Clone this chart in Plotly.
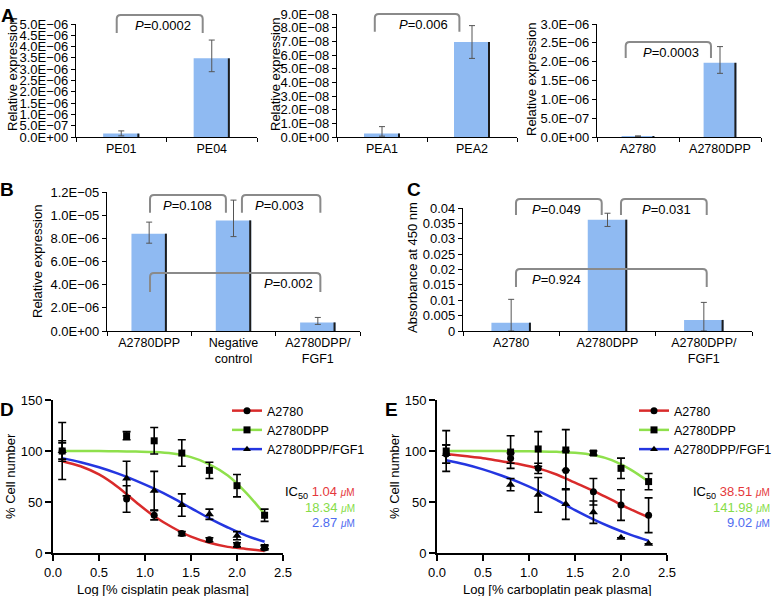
import plotly.graph_objects as go

FONT = 'Liberation Sans, Arial, Helvetica, sans-serif'
W, H = 774, 596

# ---------------- data ----------------
# A: relative expression in three cell line pairs
a1_cats = ['PE01', 'PE04']
a1_vals = [1.5e-07, 3.48e-06]
a1_err_up = [1.2e-07, 8.1e-07]
a1_err_dn = [1.0e-07, 5.9e-07]
a1_ticks = ['0.0E+00', '5.0E−07', '1.0E−06', '1.5E−06', '2.0E−06', '2.5E−06',
            '3.0E−06', '3.5E−06', '4.0E−06', '4.5E−06', '5.0E−06']

a2_cats = ['PEA1', 'PEA2']
a2_vals = [2.6e-09, 6.95e-08]
a2_err_up = [5.0e-09, 1.2e-08]
a2_err_dn = [2.0e-09, 1.2e-08]
a2_ticks = ['0.0E+00', '1.0E−08', '2.0E−08', '3.0E−08', '4.0E−08', '5.0E−08',
            '6.0E−08', '7.0E−08', '8.0E−08', '9.0E−08']

a3_cats = ['A2780', 'A2780DPP']
a3_vals = [2.0e-08, 1.97e-06]
a3_err_up = [1.0e-08, 4.3e-07]
a3_err_dn = [1.0e-08, 2.8e-07]
a3_ticks = ['0.0E+00', '5.0E−07', '1.0E−06', '1.5E−06', '2.0E−06', '2.5E−06', '3.0E−06']

# B: relative expression after siRNA
b_cats = ['A2780DPP', 'Negative<br>control', 'A2780DPP/<br>FGF1']
b_vals = [8.4e-06, 9.55e-06, 7.4e-07]
b_err_up = [1.0e-06, 1.75e-06, 4.3e-07]
b_err_dn = [8.2e-07, 1.4e-06, 1.7e-07]
b_ticks = ['0.0E+00', '2.0E−06', '4.0E−06', '6.0E−06', '8.0E−06', '1.0E−05', '1.2E−05']

# C: absorbance at 450 nm
c_cats = ['A2780', 'A2780DPP', 'A2780DPP/<br>FGF1']
c_vals = [0.0027, 0.0362, 0.0036]
c_err_up = [0.0076, 0.0021, 0.0057]
c_err_dn = [0.0027, 0.0022, 0.0036]
c_ticks = ['0', '0.005', '0.01', '0.015', '0.02', '0.025', '0.03', '0.035', '0.04']

# D / E: dose response
series_names = ['A2780', 'A2780DPP', 'A2780DPP/FGF1']
dose_x = [0.1, 0.8, 1.1, 1.4, 1.7, 2.0, 2.3]
fit_x = [0.1, 0.3, 0.5, 0.7, 0.9, 1.1, 1.3, 1.5, 1.7, 1.9, 2.1, 2.3]

d_a2780 = [100, 53, 37, 19, 13, 8, 5]
d_a2780_err = [28, 13, 4.5, 2, 2, 2, 2]
d_dpp = [100, 115, 110, 98, 81, 66, 37]
d_dpp_err = [10, 4, 13, 13, 8, 11, 6]
d_fgf1 = [100, 73, 61, 47, 38, 17, 6]
d_fgf1_err = [8, 17, 19, 11, 5, 4, 2]
d_fit_a2780 = [90, 85, 77, 65, 50, 36, 25, 16, 10, 6, 4, 2]
d_fit_dpp = [100, 100, 100, 99.7, 99.4, 99, 97.5, 94, 87, 76, 59, 38]
d_fit_fgf1 = [93, 89, 84, 78, 71, 63, 54, 44, 34, 25, 17, 11]
d_ic50 = ['1.04', '18.34', '2.87']

e_a2780 = [97, 93, 83, 81, 60, 47, 37]
e_a2780_err = [9, 5, 5, 19, 13, 15, 17]
e_dpp = [100, 99, 102, 101, 98, 83, 70]
e_dpp_err = [20, 16, 17, 20, 2, 10, 8]
e_fgf1 = [97, 67, 57, 48, 40, 15, 9]
e_fgf1_err = [9, 6, 17, 15, 11, 0, 0]
e_fit_a2780 = [97, 95, 93, 90, 87, 83, 77, 69, 61, 52, 43, 35]
e_fit_dpp = [100, 100, 100, 99.9, 99.8, 99.6, 99.2, 98.3, 96, 91, 82, 70]
e_fit_fgf1 = [91, 87, 82, 76, 69, 61, 52, 42, 33, 25, 18, 12]
e_ic50 = ['38.51', '141.98', '9.02']

# ---------------- styling ----------------
BAR = '#8fbaf2'
BRACKET = '#8a8a8a'
LINE_COLORS = ['#d92b2b', '#8fe04c', '#2436e0']
TEXT_COLORS = ['#e5383b', '#86dc48', '#4f6cf0']
SYMBOLS = ['circle', 'square', 'triangle-up']

fig = go.Figure()
layout = dict(width=W, height=H, margin=dict(l=0, r=0, t=0, b=0, autoexpand=False),
              paper_bgcolor='white', plot_bgcolor='white', barmode='overlay',
              showlegend=True, font=dict(family=FONT, color='black'))
annotations = []
shapes = []


def note(text, px, py, size=13, color='black', xanchor='center', yanchor='middle', **kw):
    annotations.append(dict(text=text, x=px / W, y=1 - py / H, xref='paper', yref='paper',
                            xanchor=xanchor, yanchor=yanchor, showarrow=False,
                            font=dict(family=FONT, size=size, color=color), **kw))


def ax_ids(k):
    s = '' if k == 1 else str(k)
    return 'x' + s, 'y' + s, 'xaxis' + s, 'yaxis' + s


def bar_panel(k, box, cats, vals, up, dn, ticks, brackets, width=0.4):
    l, t, r, b = box
    xa, ya, xkey, ykey = ax_ids(k)
    n = len(cats)
    band = (r - l) / n
    edge = 2.0 / band
    tickvals = [float(s.replace('−', '-')) for s in ticks]
    ymax = max(tickvals)
    fig.add_trace(go.Bar(x=cats, y=vals, width=width, marker=dict(color=BAR, line_width=0),
                         error_y=dict(type='data', array=up, arrayminus=dn, color='#555555',
                                      thickness=1, width=3),
                         xaxis=xa, yaxis=ya, showlegend=False, hoverinfo='skip'))
    fig.add_trace(go.Bar(x=cats, y=vals, width=edge, offset=width / 2 - edge,
                         marker=dict(color='#1c1c1c', line_width=0),
                         xaxis=xa, yaxis=ya, showlegend=False, hoverinfo='skip'))
    layout[xkey] = dict(domain=[l / W, r / W], anchor=ya, type='category', range=[-0.5, n - 0.5],
                        showline=True, linecolor='black', linewidth=1.3, ticks='outside',
                        tickson='boundaries', ticklen=4, tickcolor='black',
                        tickfont=dict(size=12.5), showgrid=False, zeroline=False)
    layout[ykey] = dict(domain=[1 - b / H, 1 - t / H], anchor=xa, range=[0, ymax],
                        tickmode='array', tickvals=tickvals, ticktext=ticks,
                        showline=True, linecolor='black', linewidth=1.3, ticks='outside',
                        ticklen=4, tickcolor='black', tickfont=dict(size=13),
                        showgrid=False, zeroline=False)

    def px(i):
        return l + (i + 0.5) * band

    def py(v):
        return b - v / ymax * (b - t)

    rx, ry = 4 / W, 4 / H
    for x0, x1, ytop, yleg, label, tx in brackets:
        X0, X1 = px(x0) / W, px(x1) / W
        YT, YL = 1 - py(ytop) / H, 1 - py(yleg) / H
        path = (f'M {X0},{YL} L {X0},{YT - ry} Q {X0},{YT} {X0 + rx},{YT} '
                f'L {X1 - rx},{YT} Q {X1},{YT} {X1},{YT - ry} L {X1},{YL}')
        shapes.append(dict(type='path', path=path, xref='paper', yref='paper',
                           line=dict(color=BRACKET, width=2)))
        note(f'<i>P</i>={label}', px(tx), py(ytop) + 1, size=13, yanchor='top')


bar_panel(1, (76, 24, 257, 137), a1_cats, a1_vals, a1_err_up, a1_err_dn, a1_ticks,
          [(-0.05, 0.9, 5.4e-06, 4.6e-06, '0.0002', 0.46)])
bar_panel(2, (337, 14, 517, 137), a2_cats, a2_vals, a2_err_up, a2_err_dn, a2_ticks,
          [(-0.08, 0.86, 9.0e-08, 7.7e-08, '0.006', 0.46)])
bar_panel(3, (597, 24, 761, 137), a3_cats, a3_vals, a3_err_up, a3_err_dn, a3_ticks,
          [(-0.15, 0.89, 2.52e-06, 2.1e-06, '0.0003', 0.40)])
bar_panel(4, (107, 192, 360, 331), b_cats, b_vals, b_err_up, b_err_dn, b_ticks,
          [(0.01, 0.91, 1.174e-05, 1.02e-05, '0.108', 0.46),
           (1.10, 2.03, 1.174e-05, 1.02e-05, '0.003', 1.55),
           (0.01, 2.03, 5.0e-06, 3.37e-06, '0.002', 1.65)], width=0.42)
bar_panel(5, (463, 208, 752, 331), c_cats, c_vals, c_err_up, c_err_dn, c_ticks,
          [(0.05, 0.94, 0.0429, 0.0377, '0.049', 0.47),
           (1.14, 2.03, 0.0429, 0.0377, '0.031', 1.61),
           (0.05, 2.03, 0.0202, 0.0143, '0.924', 0.47)], width=0.41)


def curve_panel(k, box, pts, errs, fits, ic50, legend_key, legend_px, ic_px):
    l, t, r, b = box
    xa, ya, xkey, ykey = ax_ids(k)
    for fit, col in zip(fits, LINE_COLORS):
        fig.add_trace(go.Scatter(x=fit_x, y=fit, mode='lines', line=dict(color=col, width=2.5, shape='spline'),
                                 xaxis=xa, yaxis=ya, showlegend=False, hoverinfo='skip'))
    for p, e, sym in zip(pts, errs, SYMBOLS):
        fig.add_trace(go.Scatter(x=dose_x, y=p, mode='markers',
                                 marker=dict(color='black', symbol=sym, size=7 if sym != 'triangle-up' else 8),
                                 error_y=dict(type='data', array=e, color='black', thickness=1.6, width=4),
                                 xaxis=xa, yaxis=ya, showlegend=False, hoverinfo='skip', cliponaxis=False))
    for name, col, sym in zip(series_names, LINE_COLORS, SYMBOLS):
        fig.add_trace(go.Scatter(x=[None], y=[None], mode='lines+markers', name=name,
                                 line=dict(color=col, width=2.5),
                                 marker=dict(color='black', symbol=sym, size=7),
                                 xaxis=xa, yaxis=ya, legend=legend_key))
    axis_common = dict(showline=True, linecolor='black', linewidth=2, ticks='outside', ticklen=6,
                       tickwidth=2, tickcolor='black', tickfont=dict(size=13),
                       showgrid=False, zeroline=False)
    layout[xkey] = dict(domain=[l / W, r / W], anchor=ya, range=[0, 2.5], dtick=0.5,
                        tickformat='.1f', **axis_common)
    layout[ykey] = dict(domain=[1 - b / H, 1 - t / H], anchor=xa, range=[0, 150], dtick=50,
                        **axis_common)
    lx, ly = legend_px
    layout[legend_key] = dict(x=lx / W, y=1 - ly / H, xanchor='left', yanchor='top',
                              bgcolor='rgba(0,0,0,0)', font=dict(size=12.5, family=FONT),
                              tracegroupgap=0, itemwidth=30)
    ix, iy = ic_px
    mu = "<span style='font-size:10px'><i>μ</i>M</span>"
    for j, (val, col) in enumerate(zip(ic50, TEXT_COLORS)):
        prefix = 'IC<sub>50</sub> ' if j == 0 else ''
        note(f"{prefix}<span style='color:{col}'>{val} {mu}</span>", ix, iy + j * 15,
             size=13, xanchor='right')


curve_panel(6, (53, 400, 283, 553), [d_a2780, d_dpp, d_fgf1],
            [d_a2780_err, d_dpp_err, d_fgf1_err], [d_fit_a2780, d_fit_dpp, d_fit_fgf1],
            d_ic50, 'legend', (227, 396), (357, 492))
curve_panel(7, (437, 400, 667, 553), [e_a2780, e_dpp, e_fgf1],
            [e_a2780_err, e_dpp_err, e_fgf1_err], [e_fit_a2780, e_fit_dpp, e_fit_fgf1],
            e_ic50, 'legend2', (634, 396), (772, 492))

# axis titles
for txt, x, y in [('Relative expression', 12, 75), ('Relative expression', 275, 75),
                  ('Relative expression', 531, 80), ('Relative expression', 37, 262),
                  ('Absorbance at 450 nm', 412, 268), ('% Cell number', 10, 476),
                  ('% Cell number', 394, 476)]:
    note(txt, x, y, size=13, textangle=-90)
note('Log [% cisplatin peak plasma]', 163, 589, size=13)
note('Log [% carboplatin peak plasma]', 557, 589, size=13)

# panel letters
for txt, x, y in [('A', 8, 15), ('B', 7, 190), ('C', 414, 190), ('D', 7, 410), ('E', 391, 410)]:
    note(f'<b>{txt}</b>', x, y, size=19)

layout['annotations'] = annotations
layout['shapes'] = shapes
fig.update_layout(**layout)
# the page body has a default 8px margin; drop it so the figure sits at the window corner
fig.write_html('out.html', config={'displayModeBar': False},
               post_script="document.body.style.margin='0';")
